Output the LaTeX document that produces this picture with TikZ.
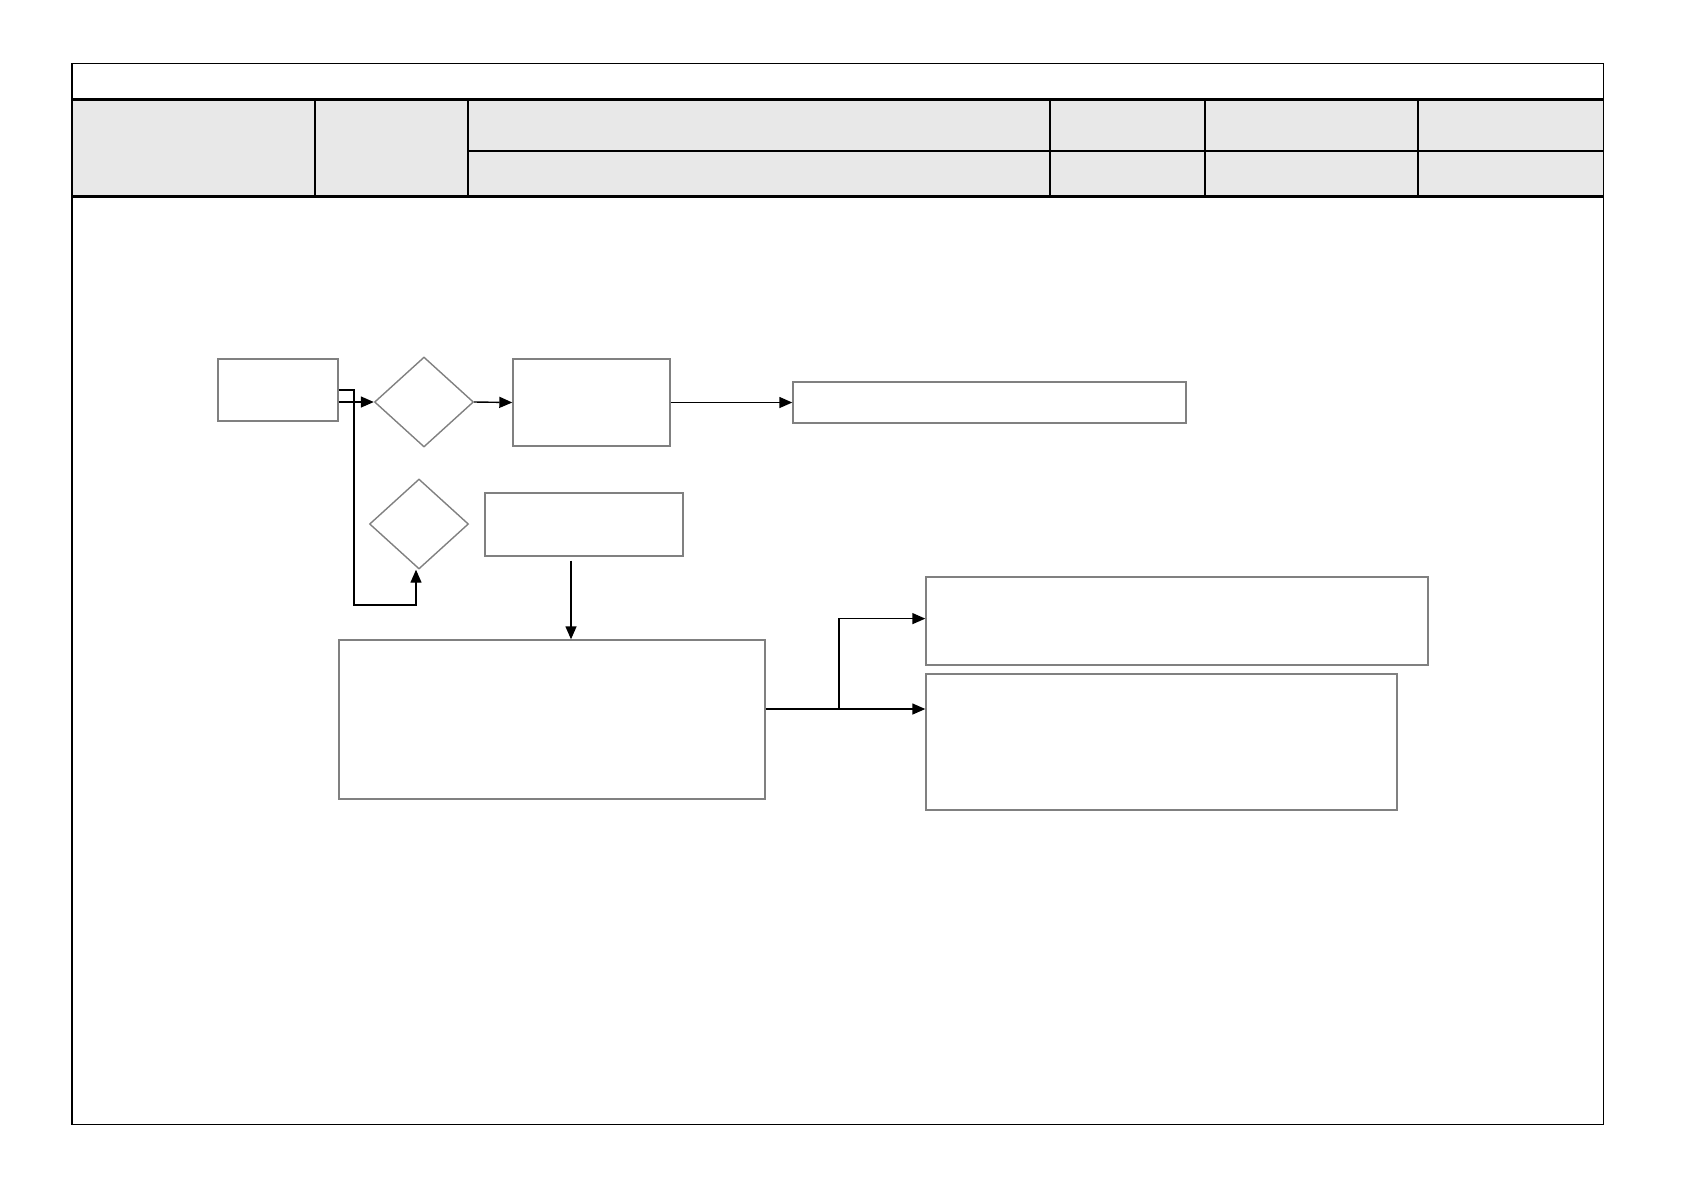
\documentclass[tikz,border=0pt]{standalone}
\usetikzlibrary{arrows.meta, positioning, shapes.geometric, calc}

\begin{document}
\begin{tikzpicture}[
  x=0.5pt, y=-0.5pt,
  box/.style={draw=black!50, line width=0.7pt, rectangle, inner sep=0pt},
  dec/.style={draw=black!50, line width=0.7pt, diamond, inner sep=0pt,
              minimum width=49.5pt, minimum height=45pt},
  arrow/.style={-{Triangle[length=6.5pt,width=5.5pt]}, line width=0.7pt}
]
\useasboundingbox (0,0) rectangle (1684,1190);
% header table
\fill[black!9] (72,99) rectangle (1603,196.5);
\draw[line width=0.8pt] (72,63.4) rectangle (1603.5,1124.5);
\draw[line width=1.5pt] (72,99) -- (1603.5,99);
\draw[line width=1.5pt] (72,196.5) -- (1603.5,196.5);
\draw[line width=1pt] (468.3,151.4) -- (1603.5,151.4);
\foreach \xcol in {314.7, 468.3, 1050.4, 1205, 1417.7}
  \draw[line width=1pt] (\xcol,99) -- (\xcol,196.5);

% flow
\node[box, minimum width=60pt, minimum height=31pt] (start) at (278,390) {};
\node[dec] (check1) at (424,402) {};
\node[box, minimum width=78.5pt, minimum height=43.5pt] (step1) at (591.5,402.5) {};
\node[box, minimum width=196.5pt, minimum height=20.5pt] (result1) at (989.5,402.5) {};
\node[dec] (check2) at (419,524) {};
\node[box, minimum width=99pt, minimum height=31.5pt] (step2) at (584,524.5) {};
\node[box, minimum width=213pt, minimum height=79.5pt] (process) at (552,719.5) {};
\node[box, minimum width=251pt, minimum height=44pt] (result2) at (1177,621) {};
\node[box, minimum width=235.5pt, minimum height=68pt] (result3) at (1161.5,742) {};

\coordinate (bend) at (354,605);
\coordinate (split) at (838.8,709);

\draw[arrow] ([yshift=-6pt]start.east) -- (check1.west);
\draw[arrow] (start.east) -| (bend) -| ([xshift=-1.5pt]check2.south);
\draw[arrow] (check1.east) -- (step1.west);
\draw[arrow] (step1.east) -- (result1.west);
\draw[arrow] ([xshift=-6.5pt,yshift=-2pt]step2.south) -- ([xshift=-6.5pt]step2.south |- process.north);
\draw[line width=1pt] (process.east |- split) -- (split);
\draw[arrow] (split) -- (split -| result3.west);
\draw[arrow] (split) |- ([yshift=1.2pt]result2.west);
\end{tikzpicture}
\end{document}
